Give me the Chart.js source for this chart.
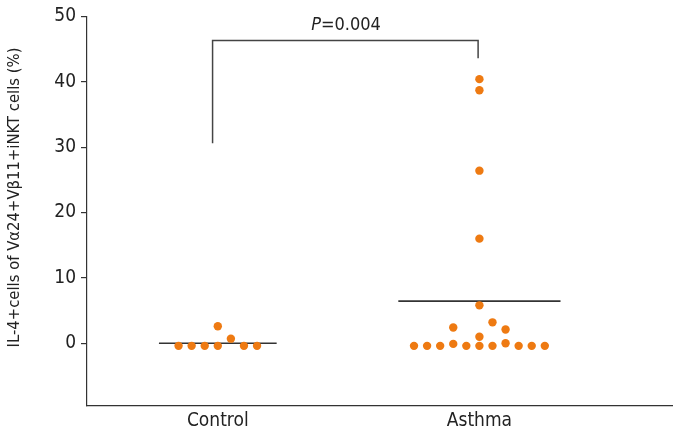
<!DOCTYPE html>
<html>
<head>
<meta charset="utf-8">
<script src="https://cdn.jsdelivr.net/npm/chart.js@4/dist/chart.umd.min.js"></script>
<style>
  html, body { margin: 0; padding: 0; background: #fff; }
  #wrap { width: 673px; height: 435px; }
</style>
</head>
<body>
<div id="wrap"><canvas id="dotChart"></canvas></div>
<script>
// dot plot - IL-4+ iNKT cells, control vs asthma

const categories = ['Control', 'Asthma'];
const yTicks = [0, 10, 20, 30, 40, 50];
const yTitle = 'IL-4+cells of V\u03b124+V\u03b211+iNKT cells (%)';

// jitter slot (columns left/right of the group centre) and value of each dot
const controlSlots  = [-3, -2, -1, 0, 0, 1, 2, 3];
const controlValues = [-0.4, -0.4, -0.4, -0.4, 2.6, 0.7, -0.4, -0.4];

const asthmaSlots  = [-5, -4, -3, -2, -2, -1, 0, 0, 0, 0, 0, 0, 0, 1, 1, 2, 2, 3, 4, 5];
const asthmaValues = [-0.4, -0.4, -0.4, -0.1, 2.4, -0.4, -0.4, 1.0, 5.8, 16.0, 26.4, 38.7, 40.4, -0.4, 3.2, 0.0, 2.1, -0.4, -0.4, -0.4];

const groupMeans = [0, 6.45];
const meanHalfWidth = [0.45, 0.62];

// significance bracket
const bracketLeft = [30.6, 46.3];   // bottom, top of left leg
const bracketRight = [43.6, 46.3];  // bottom, top of right leg
const pValueText = '=0.004';

const FONT = "'Liberation Sans Narrow', 'DejaVu Sans Condensed', 'Arial Narrow', sans-serif";
const DOT = '#ee7a12';
const INK = '#333333';
const SLOT = 0.1;

function groupX(i) { return 1 + i * 2; }

function dots(slots, values, g) {
    return values.map((v, i) => ({ x: groupX(g) + slots[i] * SLOT, y: v }));
}

const meanSets = groupMeans.map((m, g) => ({
    type: 'line',
    data: [{ x: groupX(g) - meanHalfWidth[g], y: m }, { x: groupX(g) + meanHalfWidth[g], y: m }],
    borderColor: INK,
    borderWidth: 1.6,
    pointRadius: 0,
    order: 2
}));

const bracketSet = {
    type: 'line',
    data: [
        { x: groupX(0) - 0.04, y: bracketLeft[0] },
        { x: groupX(0) - 0.04, y: bracketLeft[1] },
        { x: groupX(1) - 0.01, y: bracketRight[1] },
        { x: groupX(1) - 0.01, y: bracketRight[0] }
    ],
    borderColor: '#444',
    borderWidth: 1.5,
    pointRadius: 0,
    order: 3
};

// P value text and the y title (title sits a bit above the axis middle)
const labels = {
    id: 'labels',
    afterDatasetsDraw(chart) {
        const { ctx, scales } = chart;
        const cx = scales.x.getPixelForValue((groupX(0) + groupX(1)) / 2 - 0.02);
        const cy = scales.y.getPixelForValue(48.6);
        ctx.save();
        ctx.fillStyle = '#222';
        ctx.textBaseline = 'middle';
        ctx.font = 'italic 18px ' + FONT;
        const pW = ctx.measureText('P').width;
        ctx.font = '18px ' + FONT;
        const restW = ctx.measureText(pValueText).width;
        const startX = cx - (pW + restW) / 2;
        ctx.font = 'italic 18px ' + FONT;
        ctx.fillText('P', startX, cy);
        ctx.font = '18px ' + FONT;
        ctx.fillText(pValueText, startX + pW, cy);

        ctx.translate(15, scales.y.getPixelForValue(22.3));
        ctx.rotate(-Math.PI / 2);
        ctx.textAlign = 'center';
        ctx.font = '16.5px ' + FONT;
        ctx.fillText(yTitle, 0, 0);
        ctx.restore();
    }
};

new Chart(document.getElementById('dotChart').getContext('2d'), {
    type: 'scatter',
    data: {
        datasets: [
            {
                data: dots(controlSlots, controlValues, 0),
                backgroundColor: DOT, borderWidth: 0, pointRadius: 4.2, order: 1
            },
            {
                data: dots(asthmaSlots, asthmaValues, 1),
                backgroundColor: DOT, borderWidth: 0, pointRadius: 4.2, order: 1
            },
            ...meanSets,
            bracketSet
        ]
    },
    options: {
        responsive: true,
        maintainAspectRatio: false,
        animation: false,
        layout: { autoPadding: false, padding: { top: 15, right: 0, left: 0, bottom: 0 } },
        plugins: { legend: { display: false }, tooltip: { enabled: false } },
        scales: {
            x: {
                type: 'linear',
                min: 0,
                max: 4.48,
                afterBuildTicks: (scale) => { scale.ticks = categories.map((c, i) => ({ value: groupX(i) })); },
                afterFit: (scale) => { scale.height = 29; },
                ticks: {
                    callback: (v) => categories[(v - 1) / 2],
                    color: '#222',
                    padding: 4,
                    font: { family: FONT, size: 19 }
                },
                grid: { display: true, drawOnChartArea: false, drawTicks: false },
                border: { color: INK, width: 1.2 }
            },
            y: {
                min: -9.6,
                max: 50,
                afterBuildTicks: (scale) => { scale.ticks = yTicks.map(v => ({ value: v })); },
                afterFit: (scale) => { scale.width = 87; },
                ticks: {
                    color: '#222',
                    padding: 5,
                    font: { family: FONT, size: 19 }
                },
                grid: { drawOnChartArea: false, tickLength: 6, color: INK, lineWidth: 1.2 },
                border: { color: INK, width: 1.2 }
            }
        }
    },
    plugins: [labels]
});
</script>
</body>
</html>
